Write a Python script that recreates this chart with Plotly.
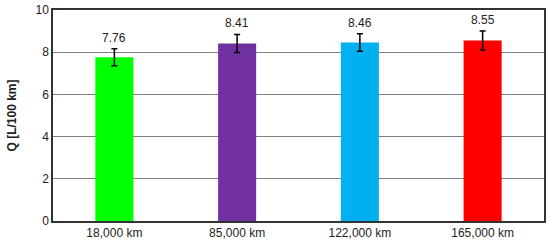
import plotly.graph_objs as go

# Data
categories = ['18,000 km', '85,000 km', '122,000 km', '165,000 km']
values = [7.76, 8.41, 8.46, 8.55]
errors = [0.40, 0.43, 0.42, 0.45]
colors = ['#00FF00', '#7030A0', '#00B0F0', '#FF0000']
labels = ['7.76', '8.41', '8.46', '8.55']

data = []
data.append(go.Bar(x=categories, y=values, width=0.31,
				marker=dict(color=colors, line=dict(width=0)),
				error_y=dict(type='data', array=errors, color='black',
							thickness=1.5, width=3),
				showlegend=False))

# value labels above the error bars
annotations = []
for c, v, e, t in zip(categories, values, errors, labels):
	annotations.append(dict(x=c, y=v + e, text=t, showarrow=False,
						yanchor='bottom', yshift=2,
						font=dict(size=12, color='#222222')))

# Layout
layout = {
	'width': 550, 'height': 247,
	'margin': dict(l=53, r=6, t=10, b=26, autoexpand=False),
	'plot_bgcolor': 'white',
	'paper_bgcolor': 'white',
	'font': dict(family='Liberation Sans, Arial, sans-serif', size=12, color='#222222'),
	'annotations': annotations,
	'xaxis': dict(showline=True, linecolor='#333333', linewidth=1.5, mirror=True,
				ticks='', tickfont=dict(size=12), automargin=False),
	'yaxis': dict(range=[0, 10], dtick=2, showline=True, linecolor='#333333',
				linewidth=1.5, mirror=True, showgrid=True, gridcolor='#7f7f7f',
				gridwidth=1, ticks='', tickfont=dict(size=12), zeroline=False,
				automargin=False,
				title=dict(text='<b>Q [L/100 km]</b>', font=dict(size=12), standoff=16)),
}

fig = go.Figure(data=data, layout=layout)
# drop the browser's default body margin so the figure sits at the page corner
fig.write_html('out.html', config={'displayModeBar': False},
			post_script="document.body.style.margin='0';")
